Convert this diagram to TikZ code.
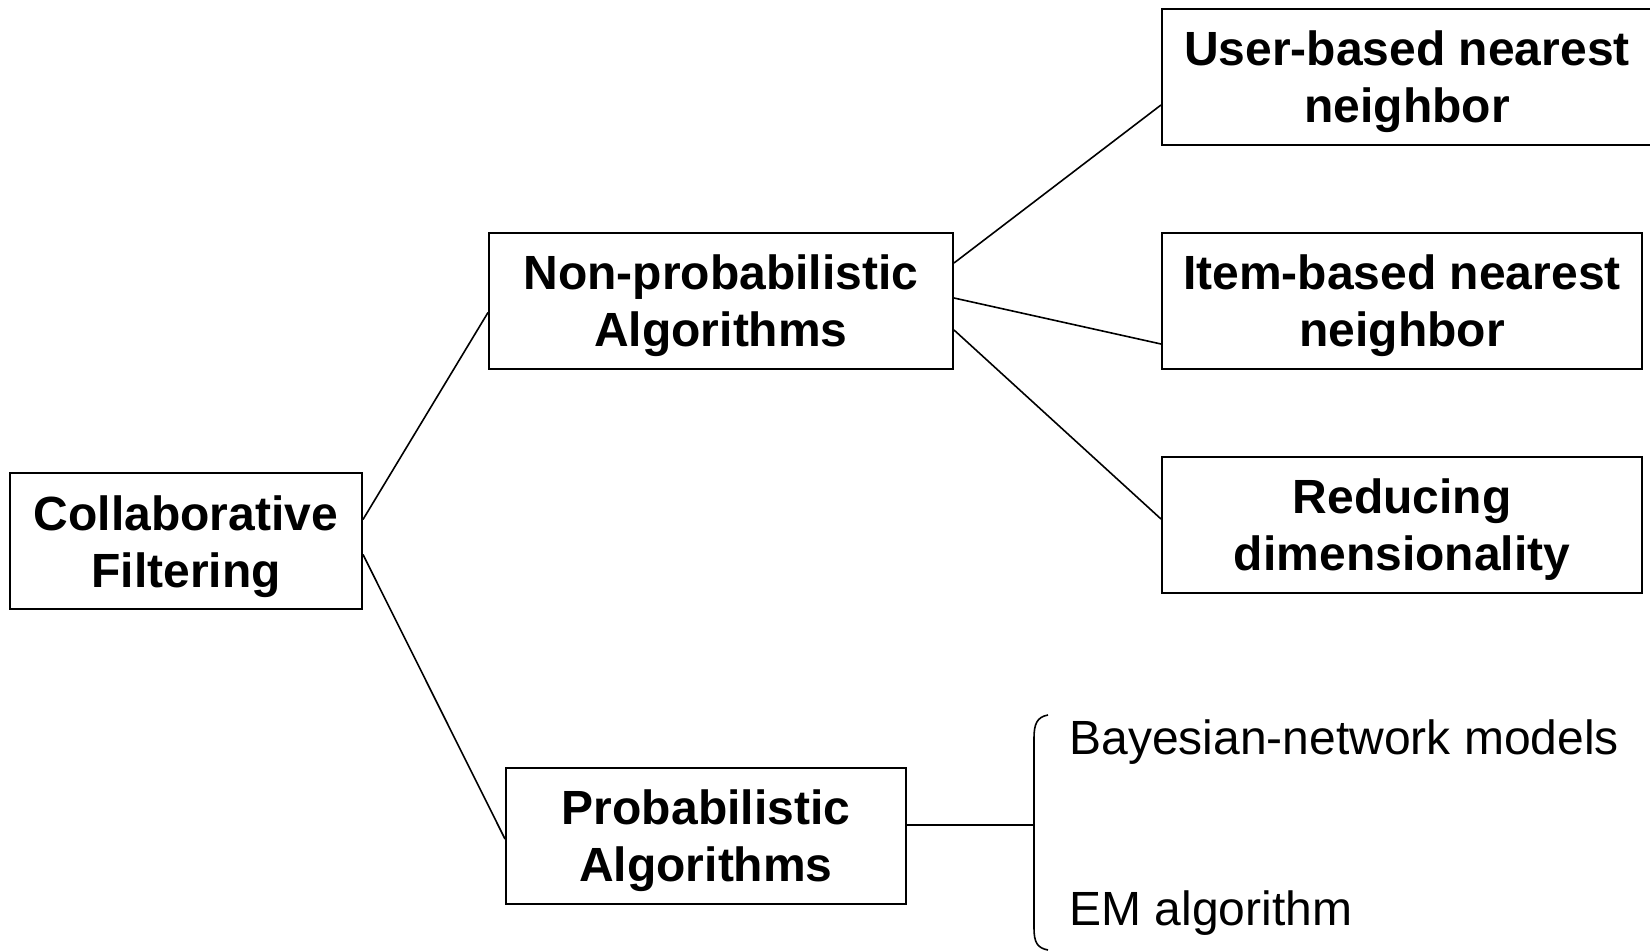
\documentclass[tikz,border=0pt]{standalone}
\usepackage{fontspec}
\setmainfont{Liberation Sans}
\usetikzlibrary{calc}

\begin{document}
\begin{tikzpicture}[x=0.5pt, y=-0.5pt,
  box/.style={rectangle, draw, line width=1pt, align=center, inner sep=0pt,
              minimum height=68pt, text depth=0pt,
              font=\fontsize{24pt}{28.5pt}\selectfont\bfseries},
  leaf/.style={anchor=west, inner sep=0pt, font=\fontsize{24pt}{28pt}\selectfont},
  link/.style={line width=0.8pt}]
\useasboundingbox (0,0) rectangle (1650,951);

  % root
  \node[box, minimum width=176pt] (cf) at (186,541.5) {Collaborative\\Filtering};

  % middle level
  \node[box, minimum width=232pt] (nonprob) at (721,301) {Non-probabilistic\\Algorithms};
  \node[box, minimum width=200pt] (prob) at (706,836) {Probabilistic\\Algorithms};

  % non-probabilistic methods
  \node[box, minimum width=245pt] (user) at (1407,77) {User-based nearest\\neighbor};
  \node[box, minimum width=240pt] (item) at (1402,301) {Item-based nearest\\neighbor};
  \node[box, minimum width=240pt] (reduce) at (1402,525) {Reducing\\dimensionality};

  % probabilistic methods
  \coordinate (brace) at (1034,825);
  \node[leaf] (bayes) at (1069,742) {Bayesian-network models};
  \node[leaf] (em) at (1069,913) {EM algorithm};
  \draw[link] (1048,715) .. controls (1037,717) and (1034,724) .. (1034,738)
    -- (1034,928) .. controls (1034,942) and (1037,948) .. (1048,950);

  \draw[link] ($(cf.east)+(0,-22)$) -- ($(nonprob.west)+(0,11.5)$);
  \draw[link] ($(cf.east)+(0,13)$) -- ($(prob.west)+(0,3)$);
  \draw[link] ($(nonprob.east)+(0,-38)$) -- ($(user.west)+(0,28)$);
  \draw[link] ($(nonprob.east)+(0,-3)$) -- ($(item.west)+(0,43)$);
  \draw[link] ($(nonprob.east)+(0,29)$) -- ($(reduce.west)+(0,-6)$);
  \draw[link] ($(prob.east)+(0,-11)$) -- (brace);

\end{tikzpicture}
\end{document}
